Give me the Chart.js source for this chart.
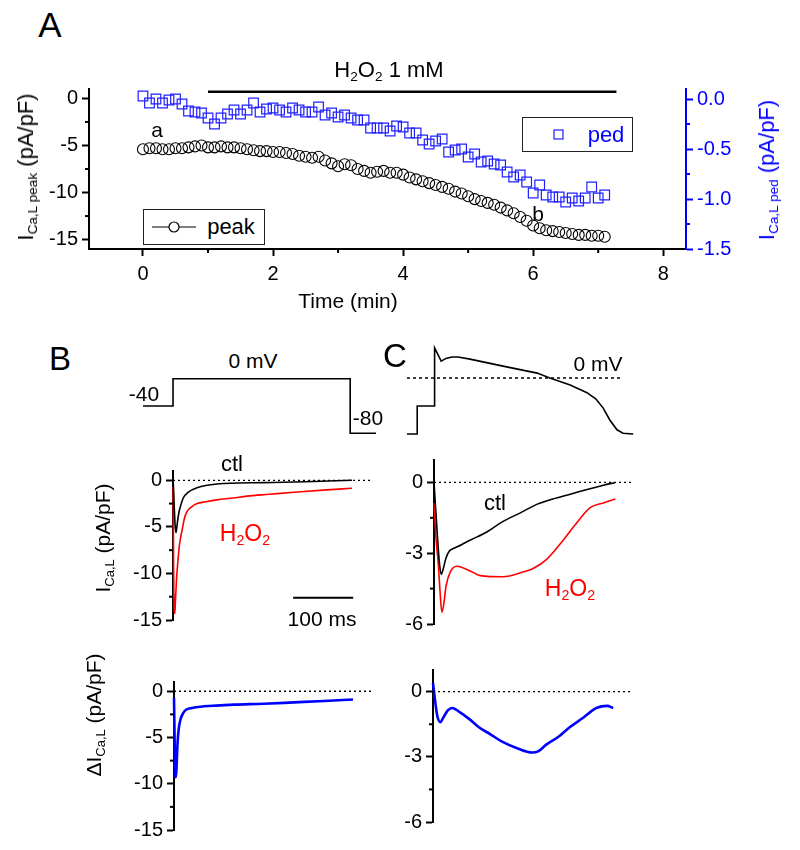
<!DOCTYPE html>
<html>
<head>
<meta charset="utf-8">
<script src="https://cdn.jsdelivr.net/npm/chart.js@4.4.1/dist/chart.umd.min.js"></script>
<style>
  body { margin: 0; background: #fff; }
  #fig { position: relative; width: 800px; height: 850px; font-family: "Liberation Sans", Arial, sans-serif; color: #000; overflow: hidden; }
  #fig canvas { position: absolute; }
  .t { position: absolute; white-space: nowrap; transform: translate(-50%, -50%); line-height: 1; }
  .rot { transform: translate(-50%, -50%) rotate(-90deg); }
  sub { font-size: 0.62em; vertical-align: -0.32em; line-height: 0; }
  .legend { position: absolute; border: 1px solid #222; background: #fff; box-sizing: border-box; }
  .red { color: #f00; }
  .blue { color: #0000ff; }
</style>
</head>
<body>
<div id="fig">
  <canvas id="chartA"></canvas>
  <canvas id="chartBv"></canvas>
  <canvas id="chartBi"></canvas>
  <canvas id="chartBd"></canvas>
  <canvas id="chartCv"></canvas>
  <canvas id="chartCi"></canvas>
  <canvas id="chartCd"></canvas>

  <!-- panel A text -->
  <div class="t" style="left:50px;top:24px;font-size:35px">A</div>
  <div class="t" style="left:389px;top:70px;font-size:22px">H<sub>2</sub>O<sub>2</sub> 1 mM</div>
  <div class="t" style="left:157px;top:129px;font-size:21px">a</div>
  <div class="t" style="left:538px;top:213px;font-size:21px">b</div>
  <div class="t" style="left:348px;top:300px;font-size:21px">Time (min)</div>
  <div class="t rot" style="left:26px;top:167px;font-size:22px">I<sub>Ca,L peak</sub> (pA/pF)</div>
  <div class="t rot blue" style="left:767px;top:170px;font-size:22px">I<sub>Ca,L ped</sub> (pA/pF)</div>
  <div class="legend" style="left:143px;top:209px;width:122px;height:36px">
    <svg width="52" height="34" style="position:absolute;left:6px;top:0">
      <line x1="2" y1="17" x2="46" y2="17" stroke="#000" stroke-width="1.2"/>
      <circle cx="24" cy="17" r="5" fill="#fff" stroke="#000" stroke-width="1.2"/>
    </svg>
    <div class="t" style="left:87px;top:17px;font-size:22px">peak</div>
  </div>
  <div class="legend" style="left:522px;top:117px;width:111px;height:35px">
    <svg width="20" height="33" style="position:absolute;left:28px;top:0">
      <rect x="3" y="12" width="9" height="9" fill="none" stroke="#2020ff" stroke-width="1.2"/>
    </svg>
    <div class="t blue" style="left:83px;top:17px;font-size:22px">ped</div>
  </div>

  <!-- panel B text -->
  <div class="t" style="left:60px;top:358px;font-size:33px">B</div>
  <div class="t" style="left:253px;top:360px;font-size:21px">0 mV</div>
  <div class="t" style="left:144px;top:393px;font-size:21px">-40</div>
  <div class="t" style="left:368px;top:417px;font-size:21px">-80</div>
  <div class="t" style="left:232px;top:464px;font-size:22px">ctl</div>
  <div class="t red" style="left:245px;top:533px;font-size:23px">H<sub>2</sub>O<sub>2</sub></div>
  <div class="t" style="left:322px;top:618px;font-size:21px">100 ms</div>
  <div class="t rot" style="left:102px;top:538px;font-size:21px">I<sub>Ca,L</sub> (pA/pF)</div>
  <div class="t rot" style="left:93px;top:715px;font-size:21px">ΔI<sub>Ca,L</sub> (pA/pF)</div>

  <!-- panel C text -->
  <div class="t" style="left:395px;top:355px;font-size:33px">C</div>
  <div class="t" style="left:598px;top:363px;font-size:21px">0 mV</div>
  <div class="t" style="left:495px;top:503px;font-size:22px">ctl</div>
  <div class="t red" style="left:570px;top:588px;font-size:23px">H<sub>2</sub>O<sub>2</sub></div>
</div>

<script>
// Panel A: time course (min)
const timeMin = [0, 0.1, 0.2, 0.3, 0.4, 0.5, 0.6, 0.7, 0.8, 0.9,
  1.0, 1.1, 1.2, 1.3, 1.4, 1.5, 1.6, 1.7, 1.8, 1.9,
  2.0, 2.1, 2.2, 2.3, 2.4, 2.5, 2.6, 2.7, 2.8, 2.9,
  3.0, 3.1, 3.2, 3.3, 3.4, 3.5, 3.6, 3.7, 3.8, 3.9,
  4.0, 4.1, 4.2, 4.3, 4.4, 4.5, 4.6, 4.7, 4.8, 4.9,
  5.0, 5.1, 5.2, 5.3, 5.4, 5.5, 5.6, 5.7, 5.8, 5.9,
  6.0, 6.1, 6.2, 6.3, 6.4, 6.5, 6.6, 6.7, 6.8, 6.9,
  7.0, 7.1];
const peakCurrent = [-5.4, -5.3, -5.3, -5.4, -5.4, -5.3, -5.3, -5.2, -5.1, -5.0,
  -5.2, -5.2, -5.1, -5.2, -5.2, -5.3, -5.4, -5.5, -5.6, -5.6,
  -5.7, -5.7, -5.8, -5.9, -6.1, -6.2, -6.3, -6.2, -6.6, -6.9,
  -7.2, -7.0, -7.1, -7.5, -7.7, -7.9, -7.8, -7.7, -7.9, -7.9,
  -8.1, -8.4, -8.6, -8.8, -9.0, -9.2, -9.4, -9.6, -9.9, -10.1,
  -10.4, -10.7, -10.9, -11.1, -11.3, -11.6, -11.9, -12.2, -12.6, -13.0,
  -13.5, -13.8, -14.0, -14.1, -14.2, -14.3, -14.4, -14.5, -14.5, -14.6,
  -14.6, -14.7];
const pedCurrent = [0.03, -0.04, 0.0, -0.04, -0.01, 0.0, -0.05, -0.12, -0.13, -0.14,
  -0.19, -0.25, -0.19, -0.15, -0.11, -0.15, -0.11, -0.04, -0.13, -0.10,
  -0.09, -0.11, -0.13, -0.09, -0.11, -0.13, -0.13, -0.08, -0.16, -0.14,
  -0.18, -0.16, -0.19, -0.21, -0.21, -0.29, -0.29, -0.29, -0.32, -0.27,
  -0.28, -0.34, -0.34, -0.41, -0.45, -0.42, -0.40, -0.53, -0.51, -0.50,
  -0.58, -0.55, -0.63, -0.62, -0.65, -0.66, -0.73, -0.78, -0.76, -0.83,
  -0.94, -0.86, -0.96, -0.98, -0.98, -1.03, -0.99, -1.02, -0.99, -0.88,
  -0.99, -0.96];
const h2o2Period = [1.0, 7.28];
const timeTicks = [0, 2, 4, 6, 8];

// Panel B: square pulse protocol [ms, mV] and currents [ms, pA/pF]
const bVoltage = [[-50, -40], [0, -40], [0, 0], [295, 0], [295, -80], [338, -80]];
const bCtl = [[0, 0], [1, -1], [2, -2.8], [3, -4.2], [4, -5.2], [5, -5.6], [6, -5.2], [8, -4.2],
  [10, -3.4], [12, -2.9], [17, -1.9], [25, -1.3], [40, -0.8], [73, -0.4], [150, -0.25],
  [220, -0.15], [298, 0.0]];
const bH2o2 = [[0, -0.7], [0.5, -4], [1, -9], [2, -14.0], [3, -14.3], [4, -13], [6, -10.5],
  [8, -8.8], [11, -6.8], [15, -5.4], [19, -4.1], [23, -3.4], [30, -2.9], [40, -2.5],
  [55, -2.3], [73, -2.1], [100, -1.9], [123, -1.7], [160, -1.5], [207, -1.25],
  [250, -1.05], [298, -0.85]];
const bDiff = [[0, -0.7], [1, -5], [2, -9.0], [3, -9.3], [4, -8.5], [6, -5.5], [8, -4],
  [11, -3], [15, -2.4], [20, -2.0], [30, -1.8], [40, -1.7], [70, -1.55], [100, -1.45],
  [150, -1.35], [200, -1.2], [250, -1.05], [298, -0.9]];
const scaleBar = [[200, -12.6], [300, -12.6]];

// Panel C: AP clamp protocol [ms, mV] and currents [ms, pA/pF]
const cVoltage = [[-45, -80], [-28, -80], [-28, -40], [0, -40], [1, 43], [12, 24], [20, 28],
  [30, 30], [40, 30], [60, 27], [115, 17], [172, 7], [193, 0], [227, -10], [255, -21],
  [270, -30], [282, -43], [293, -60], [305, -74], [315, -79], [332, -80]];
const cCtl = [[0, 0], [3, -1.2], [6, -2.4], [9, -3.4], [12, -3.9], [15, -3.7], [20, -3.2],
  [26, -2.9], [32, -2.8], [45, -2.65], [60, -2.45], [88, -2.1], [115, -1.65], [143, -1.3],
  [172, -0.92], [198, -0.7], [227, -0.5], [255, -0.3], [282, -0.12], [302, 0.0]];
const cH2o2 = [[0, -0.87], [2, -1.8], [4, -2.6], [7, -3.4], [10, -4.6], [13, -5.5], [16, -5.2],
  [20, -4.4], [27, -3.8], [38, -3.55], [60, -3.75], [77, -3.95], [115, -4.0], [148, -3.8],
  [165, -3.65], [188, -3.25], [215, -2.45], [238, -1.7], [260, -1.07], [282, -0.87],
  [302, -0.7]];
const cDiff = [[0, 0.4], [3, -0.3], [7, -1.1], [12, -1.4], [18, -1.15], [25, -0.85],
  [32, -0.75], [45, -0.95], [60, -1.25], [77, -1.65], [95, -1.95], [115, -2.3], [140, -2.6],
  [165, -2.8], [175, -2.75], [188, -2.45], [210, -2.05], [227, -1.65], [250, -1.2],
  [272, -0.75], [290, -0.65], [300, -0.75]];

const FONT = "Liberation Sans";
Chart.defaults.font.family = FONT;
Chart.defaults.animation = false;
Chart.defaults.events = [];

const pts = (arr) => arr.map(([x, y]) => ({ x, y }));

// size + position a canvas so the chart area lands on the given pixel box
function place(id, area, pad) {
  const c = document.getElementById(id);
  const w = area.r - area.l + pad.l + pad.r;
  const h = area.b - area.t + pad.t + pad.b;
  c.width = w;
  c.height = h;
  c.style.width = w + "px";
  c.style.height = h + "px";
  c.style.left = area.l - pad.l + "px";
  c.style.top = area.t - pad.t + "px";
  return c;
}

// short ticks between the labelled ones
function minorTicks(spec, len) {
  return {
    id: "minorTicks",
    afterDraw(chart) {
      const ctx = chart.ctx;
      ctx.save();
      Object.entries(spec).forEach(([id, values]) => {
        const scale = chart.scales[id];
        ctx.strokeStyle = scale.options.border.color;
        ctx.lineWidth = 2;
        values.forEach((v) => {
          const p = scale.getPixelForValue(v);
          ctx.beginPath();
          if (scale.isHorizontal()) {
            ctx.moveTo(p, scale.top);
            ctx.lineTo(p, scale.top + len);
          } else if (scale.position === "left") {
            ctx.moveTo(scale.right, p);
            ctx.lineTo(scale.right - len, p);
          } else {
            ctx.moveTo(scale.left, p);
            ctx.lineTo(scale.left + len, p);
          }
          ctx.stroke();
        });
      });
      ctx.restore();
    },
  };
}

function axis(position, min, max, step, size, color, fmt) {
  return {
    type: "linear",
    position,
    min,
    max,
    afterFit: (s) => {
      if (position === "bottom") s.height = size;
      else s.width = size;
    },
    border: { display: true, color, width: 2 },
    grid: { drawOnChartArea: false, drawTicks: true, tickLength: 7, tickWidth: 2, tickColor: color },
    ticks: {
      stepSize: step,
      includeBounds: false,
      color,
      font: { family: FONT, size: 20 },
      padding: position === "bottom" ? 6 : 4,
      callback: fmt || ((v) => String(v)),
    },
  };
}

const hidden = (min, max) => ({ type: "linear", display: false, min, max });

function line(data, color, width, dash) {
  return {
    data: pts(data),
    showLine: true,
    borderColor: color,
    borderWidth: width,
    borderDash: dash || [],
    pointRadius: 0,
    cubicInterpolationMode: "monotone",
    clip: false,
  };
}

const zeroLine = (x0, x1) => line([[x0, 0], [x1, 0]], "#000", 1.3, [2, 3]);

const baseOptions = (scales, padding) => ({
  responsive: false,
  maintainAspectRatio: false,
  layout: { padding },
  plugins: { legend: { display: false }, tooltip: { enabled: false } },
  scales,
});

// ---------- Panel A ----------
place("chartA", { l: 89, t: 89, r: 686, b: 249 }, { l: 89, t: 29, r: 114, b: 71 });
new Chart(document.getElementById("chartA"), {
  type: "scatter",
  data: {
    datasets: [
      {
        data: timeMin.map((t, i) => ({ x: t, y: pedCurrent[i] })),
        yAxisID: "y2",
        pointStyle: "rect",
        pointRadius: 6.8,
        borderColor: "#2020ff",
        borderWidth: 1.2,
        backgroundColor: "rgba(0,0,0,0)",
      },
      {
        data: timeMin.map((t, i) => ({ x: t, y: peakCurrent[i] })),
        yAxisID: "y",
        pointStyle: "circle",
        pointRadius: 5.5,
        borderColor: "#000",
        borderWidth: 1.1,
        backgroundColor: "rgba(0,0,0,0)",
      },
      Object.assign(line([[h2o2Period[0], 0.7], [h2o2Period[1], 0.7]], "#000", 2.5), { yAxisID: "y" }),
    ],
  },
  options: baseOptions(
    {
      x: Object.assign(axis("bottom", -0.83, 8.35, 2, 71, "#000"), {
        afterBuildTicks: (s) => { s.ticks = timeTicks.map((v) => ({ value: v })); },
      }),
      y: axis("left", -16, 1, 5, 89, "#000"),
      y2: axis("right", -1.5, 0.1, 0.5, 114, "#0000ff", (v) => v.toFixed(1)),
    },
    { top: 29, left: 0, right: 0, bottom: 0 }
  ),
  plugins: [minorTicks({ x: [1, 3, 5, 7], y: [-2.5, -7.5, -12.5], y2: [-0.25, -0.75, -1.25] }, 4)],
});

// ---------- Panel B ----------
place("chartBv", { l: 143, t: 372, r: 376, b: 440 }, { l: 0, t: 0, r: 0, b: 0 });
new Chart(document.getElementById("chartBv"), {
  type: "scatter",
  data: { datasets: [Object.assign(line(bVoltage, "#000", 1.6), { cubicInterpolationMode: "default", tension: 0 })] },
  options: baseOptions({ x: hidden(-50, 338), y: hidden(-90, 10) }, 0),
});

place("chartBi", { l: 173, t: 469, r: 370, b: 622 }, { l: 60, t: 14, r: 10, b: 14 });
new Chart(document.getElementById("chartBi"), {
  type: "scatter",
  data: {
    datasets: [
      zeroLine(0, 328),
      line(bCtl, "#000", 1.6),
      line(bH2o2, "#ff0000", 1.6),
      line(scaleBar, "#000", 2),
    ],
  },
  options: baseOptions({ x: hidden(0, 328), y: axis("left", -15, 1, 5, 60, "#000") },
    { top: 14, bottom: 14, right: 10, left: 0 }),
  plugins: [minorTicks({ y: [-2.5, -7.5, -12.5] }, 4)],
});

place("chartBd", { l: 174, t: 680, r: 371, b: 832 }, { l: 60, t: 14, r: 10, b: 14 });
new Chart(document.getElementById("chartBd"), {
  type: "scatter",
  data: { datasets: [zeroLine(0, 328), line(bDiff, "#0000ff", 2.6)] },
  options: baseOptions({ x: hidden(0, 328), y: axis("left", -15, 1, 5, 60, "#000") },
    { top: 14, bottom: 14, right: 10, left: 0 }),
  plugins: [minorTicks({ y: [-2.5, -7.5, -12.5] }, 4)],
});

// ---------- Panel C ----------
place("chartCv", { l: 407, t: 343, r: 635, b: 441 }, { l: 0, t: 0, r: 0, b: 0 });
new Chart(document.getElementById("chartCv"), {
  type: "scatter",
  data: {
    datasets: [
      line([[-45, 0], [315, 0]], "#000", 1.3, [3, 3]),
      Object.assign(line(cVoltage, "#000", 1.6), { cubicInterpolationMode: "default", tension: 0 }),
    ],
  },
  options: baseOptions({ x: hidden(-45, 335), y: hidden(-90, 50) }, 0),
});

place("chartCi", { l: 434, t: 458, r: 631, b: 626 }, { l: 50, t: 14, r: 10, b: 14 });
new Chart(document.getElementById("chartCi"), {
  type: "scatter",
  data: { datasets: [zeroLine(0, 328), line(cCtl, "#000", 1.6), line(cH2o2, "#ff0000", 1.6)] },
  options: baseOptions({ x: hidden(0, 328), y: axis("left", -6, 0.95, 3, 50, "#000") },
    { top: 14, bottom: 14, right: 10, left: 0 }),
  plugins: [minorTicks({ y: [-1.5, -4.5] }, 4)],
});

place("chartCd", { l: 433, t: 668, r: 630, b: 824 }, { l: 50, t: 14, r: 10, b: 14 });
new Chart(document.getElementById("chartCd"), {
  type: "scatter",
  data: { datasets: [zeroLine(0, 328), line(cDiff, "#0000ff", 2.6)] },
  options: baseOptions({ x: hidden(0, 328), y: axis("left", -6, 1, 3, 50, "#000") },
    { top: 14, bottom: 14, right: 10, left: 0 }),
  plugins: [minorTicks({ y: [-1.5, -4.5] }, 4)],
});
</script>
</body>
</html>
